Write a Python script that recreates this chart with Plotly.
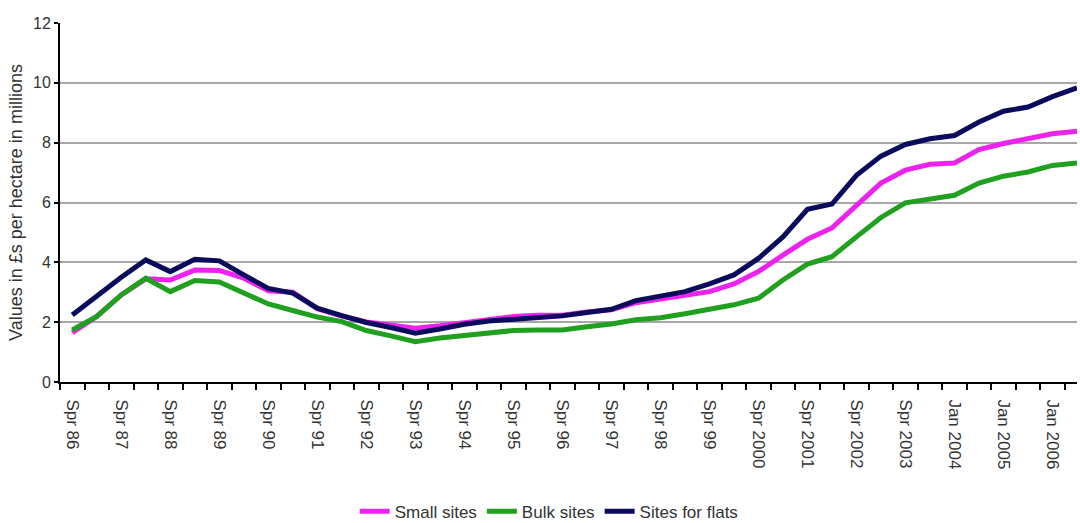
import plotly.graph_objects as go

categories = [
    "Spr 86", "Aut 86", "Spr 87", "Aut 87", "Spr 88", "Aut 88", "Spr 89", "Aut 89",
    "Spr 90", "Aut 90", "Spr 91", "Aut 91", "Spr 92", "Aut 92", "Spr 93", "Aut 93",
    "Spr 94", "Aut 94", "Spr 95", "Aut 95", "Spr 96", "Aut 96", "Spr 97", "Aut 97",
    "Spr 98", "Aut 98", "Spr 99", "Aut 99", "Spr 2000", "Aut 2000", "Spr 2001", "Aut 2001",
    "Spr 2002", "Aut 2002", "Spr 2003", "Aut 2003", "Jan 2004", "Jul 2004", "Jan 2005", "Jul 2005",
    "Jan 2006", "Jul 2006",
]

small_sites = [
    1.65, 2.19, 2.91, 3.45, 3.41, 3.74, 3.73, 3.47, 3.05, 3.00, 2.45, 2.20, 2.01,
    1.90, 1.80, 1.88, 1.99, 2.10, 2.19, 2.23, 2.23, 2.34, 2.41, 2.65, 2.77, 2.88,
    3.02, 3.28, 3.69, 4.24, 4.77, 5.15, 5.91, 6.65, 7.08, 7.28, 7.32, 7.77, 7.97,
    8.13, 8.30, 8.38,
]

bulk_sites = [
    1.74, 2.19, 2.91, 3.47, 3.02, 3.39, 3.34, 2.97, 2.61, 2.39, 2.17, 2.02, 1.72,
    1.54, 1.35, 1.47, 1.54, 1.65, 1.72, 1.74, 1.74, 1.85, 1.94, 2.08, 2.15, 2.28,
    2.41, 2.58, 2.80, 3.41, 3.94, 4.19, 4.85, 5.50, 5.99, 6.13, 6.24, 6.65, 6.88,
    7.02, 7.24, 7.32,
]

sites_for_flats = [
    2.24, 2.88, 3.50, 4.08, 3.69, 4.10, 4.05, 3.58, 3.13, 2.97, 2.47, 2.22, 1.99,
    1.82, 1.63, 1.77, 1.93, 2.04, 2.10, 2.17, 2.21, 2.32, 2.43, 2.72, 2.85, 3.02,
    3.28, 3.58, 4.13, 4.85, 5.77, 5.95, 6.91, 7.55, 7.94, 8.13, 8.24, 8.69, 9.05,
    9.19, 9.54, 9.83,
]

y_ticks = [0, 2, 4, 6, 8, 10, 12]

series = [
    ("Small sites", small_sites, "#ee22ee"),
    ("Bulk sites", bulk_sites, "#1fa01f"),
    ("Sites for flats", sites_for_flats, "#0b0b5e"),
]

x_pos = list(range(len(categories)))
label_pos = x_pos[::2]
label_text = categories[::2]
boundaries = [k - 0.5 for k in range(len(categories) + 1)]

FONT = "Liberation Sans, Arial, sans-serif"
TXT = "#333333"

fig = go.Figure()
for name, vals, color in series:
    fig.add_trace(go.Scatter(
        x=x_pos, y=vals, mode="lines", name=name,
        line=dict(color=color, width=5),
        hovertext=categories,
    ))

fig.update_layout(
    width=1080, height=523,
    margin=dict(l=60, r=3, t=23, b=141, autoexpand=False),
    paper_bgcolor="white", plot_bgcolor="white",
    font=dict(family=FONT, color=TXT, size=16),
    showlegend=True,
    legend=dict(
        orientation="h", x=0.481, xanchor="center", y=-0.361, yanchor="middle",
        font=dict(size=17, color=TXT), itemwidth=30, tracegroupgap=0,
    ),
)

fig.update_xaxes(
    range=[-0.5, 41.0], automargin=False,
    tickmode="array", tickvals=label_pos, ticktext=label_text,
    tickangle=90, tickfont=dict(size=17, color=TXT),
    ticks="outside", ticklen=12, tickcolor="rgba(0,0,0,0)",
    minor=dict(tickmode="array", tickvals=boundaries, ticks="outside",
               ticklen=6, tickwidth=2, tickcolor="black", showgrid=False),
    showline=True, linecolor="black", linewidth=2,
    showgrid=False, zeroline=False,
)

fig.update_yaxes(
    range=[0, 12], automargin=False, tickmode="array", tickvals=y_ticks,
    tickfont=dict(size=16, color=TXT),
    ticks="outside", ticklen=4, tickwidth=2, tickcolor="black",
    showline=True, linecolor="black", linewidth=2,
    showgrid=True, gridcolor="#a8a8a8", gridwidth=2, zeroline=False,
    title=dict(text="Values in £s per hectare in millions",
               font=dict(size=18, color=TXT), standoff=6),
)

fig.write_html("out.html")
